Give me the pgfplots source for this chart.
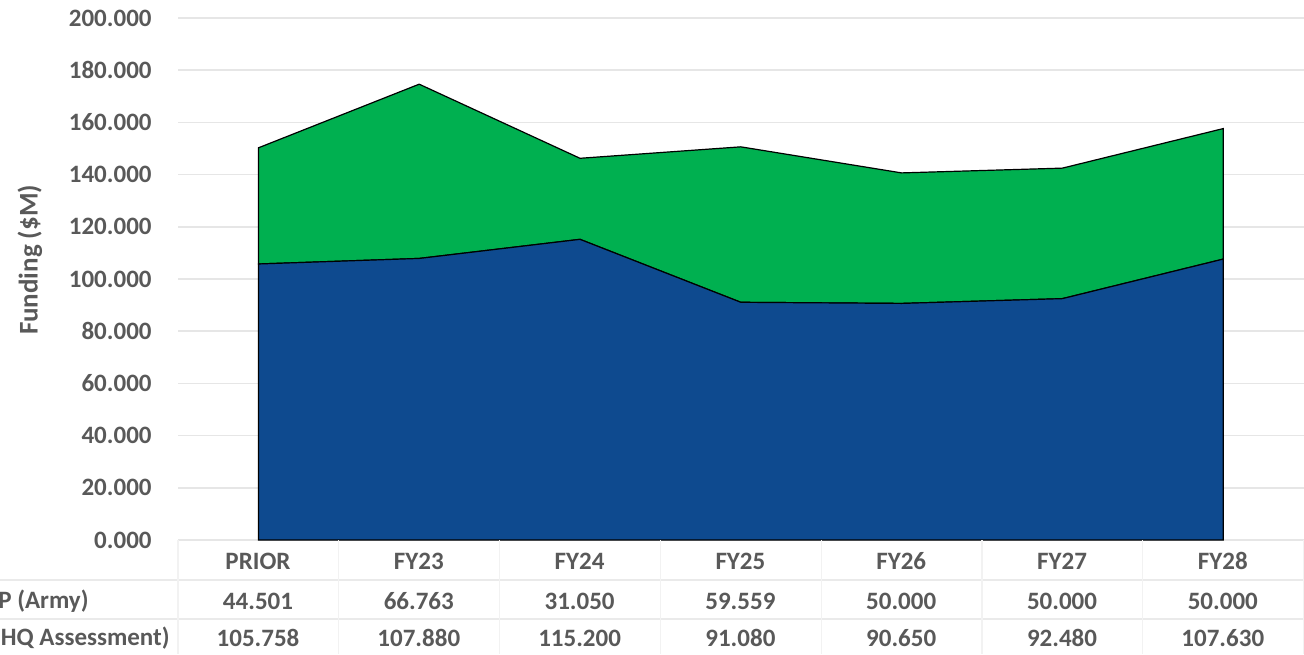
\documentclass[border=0pt]{standalone}
\usepackage{pgfplots}
\pgfplotsset{compat=1.18}
\usepackage{fontspec}
\setmainfont{Carlito}
\definecolor{txt}{HTML}{595959}
\definecolor{areablue}{HTML}{0E4A8F}
\definecolor{areagreen}{HTML}{00B050}
\definecolor{gridc}{HTML}{E6E6E6}
\definecolor{tabc}{HTML}{EAEAEA}
\definecolor{tabv}{HTML}{F2F2F2}
\begin{document}
\begin{tikzpicture}[x=1pt,y=1pt]
\useasboundingbox (0,0) rectangle (652,327);
\begin{axis}[
  at={(89pt,57pt)}, anchor=south west, scale only axis,
  width=562.8pt, height=261pt,
  xmin=-0.5, xmax=6.5, ymin=0, ymax=200,
  ytick={0,20,...,200}, xtick=\empty,
  axis line style={draw=none}, major tick length=0pt,
  ymajorgrids, grid style={gridc, line width=0.8pt},
  stack plots=y, clip=false,
  yticklabel style={anchor=east, inner sep=0pt, xshift=-13pt,
    font=\fontsize{12.5}{14}\selectfont\bfseries, text=txt,
    /pgf/number format/fixed, /pgf/number format/fixed zerofill,
    /pgf/number format/precision=3, /pgf/number format/assume math mode=true},
]
\addplot[draw=black, line width=0.6pt, fill=areablue] coordinates {(0,105.758) (1,107.880) (2,115.200) (3,91.080) (4,90.650) (5,92.480) (6,107.630)} \closedcycle;
\addplot[draw=black, line width=0.6pt, fill=areagreen] coordinates {(0,44.501) (1,66.763) (2,31.050) (3,59.559) (4,50.000) (5,50.000) (6,50.000)} \closedcycle;
\end{axis}
% data table
\draw[tabc, line width=0.8pt] (0,37) -- (652,37);
\draw[tabc, line width=0.8pt] (0,17.5) -- (652,17.5);
\foreach \k in {0,...,7} {\draw[tabv, line width=0.6pt] ({89+80.4*\k},57) -- ({89+80.4*\k},0);}
\begin{scope}[every node/.style={font=\fontsize{12.5}{14}\selectfont\bfseries, text=txt, inner sep=0pt}]
\foreach \c [count=\i from 0] in {PRIOR,FY23,FY24,FY25,FY26,FY27,FY28} {\node at ({129+80.4*\i},46.5) {\c};}
\foreach \c [count=\i from 0] in {44.501,66.763,31.050,59.559,50.000,50.000,50.000} {\node at ({129+80.4*\i},26.5) {\c};}
\foreach \c [count=\i from 0] in {105.758,107.880,115.200,91.080,90.650,92.480,107.630} {\node at ({129+80.4*\i},8) {\c};}
\node[anchor=east] at (44.5,26.5) {P (Army)};
\node[anchor=east] at (85,8) {HQ Assessment)};
\node[rotate=90, font=\fontsize{13.5}{15}\selectfont\bfseries] at (15,197) {Funding (\$M)};
\end{scope}
\end{tikzpicture}
\end{document}
